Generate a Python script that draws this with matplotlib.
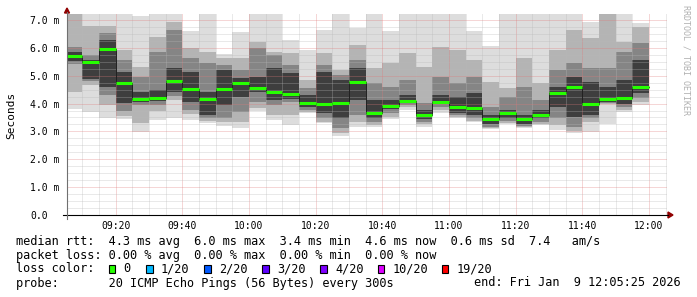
import numpy as np
import matplotlib
matplotlib.use("Agg")
import matplotlib.pyplot as plt
from matplotlib.patches import Rectangle, Polygon

W, H = 697, 297

# 5-minute steps, minutes after 09:00 (first step starts 09:05)
bar_start = list(range(5, 180, 5))

# median rtt per step (ms)
median = [5.71, 5.48, 5.96, 4.75, 4.17, 4.20, 4.82, 4.52, 4.16, 4.52,
          4.75, 4.55, 4.42, 4.34, 4.01, 3.98, 4.01, 4.76, 3.67, 3.91,
          4.10, 3.58, 4.07, 3.89, 3.83, 3.43, 3.67, 3.46, 3.58, 4.37,
          4.61, 3.97, 4.16, 4.20, 4.59]

# smoke bands (sorted pings, outer -> inner), ms
smoke_min = [3.80, 3.71, 3.47, 3.45, 2.99, 3.41, 3.47, 3.41, 3.29, 3.19,
             3.13, 3.74, 3.41, 3.23, 3.65, 3.29, 2.83, 3.17, 3.17, 3.43,
             3.77, 3.17, 3.65, 3.47, 3.35, 3.07, 3.27, 3.11, 3.23, 3.05,
             2.95, 2.99, 3.27, 3.68, 3.95]
smoke_lo2 = [4.43, 4.67, 3.95, 3.57, 3.29, 3.73, 4.13, 3.61, 3.37, 3.33,
             3.33, 3.83, 3.59, 3.59, 3.69, 3.35, 2.93, 3.35, 3.23, 3.51,
             3.86, 3.27, 3.77, 3.51, 3.39, 3.11, 3.31, 3.15, 3.27, 3.23,
             3.02, 3.35, 3.97, 3.77, 4.04]
smoke_lo3 = [5.41, 4.81, 4.31, 3.73, 3.95, 3.95, 4.28, 3.77, 3.47, 3.47,
             3.71, 4.07, 3.95, 4.07, 3.77, 3.47, 3.11, 3.59, 3.35, 3.65,
             3.95, 3.35, 3.89, 3.58, 3.47, 3.17, 3.39, 3.19, 3.35, 3.47,
             3.17, 3.47, 4.03, 3.89, 4.19]
smoke_lo4 = [5.53, 4.88, 4.61, 4.01, 4.07, 4.09, 4.40, 4.07, 3.59, 3.95,
             4.25, 4.40, 4.13, 4.16, 3.89, 3.65, 3.47, 4.13, 3.47, 3.79,
             4.01, 3.43, 3.98, 3.67, 3.59, 3.27, 3.47, 3.27, 3.47, 3.89,
             3.53, 3.59, 4.07, 3.97, 4.37]
smoke_hi4 = [5.86, 5.56, 6.28, 5.14, 4.40, 4.49, 5.26, 5.14, 4.43, 5.20,
             4.91, 4.97, 5.26, 5.08, 4.31, 5.14, 4.85, 5.26, 4.13, 4.13,
             4.31, 3.77, 4.31, 4.25, 4.37, 3.59, 3.77, 3.59, 3.77, 4.61,
             4.97, 4.79, 4.61, 4.85, 5.56]
smoke_hi3 = [6.04, 5.74, 6.52, 5.56, 4.97, 5.86, 6.64, 5.62, 5.44, 5.38,
             5.20, 5.98, 5.74, 5.38, 4.55, 5.38, 5.03, 5.56, 4.73, 4.61,
             4.85, 4.01, 4.97, 4.73, 4.97, 3.89, 4.25, 4.61, 4.13, 5.20,
             5.44, 5.26, 5.26, 5.86, 6.16]
smoke_hi2 = [7.50, 6.80, 6.80, 5.92, 5.32, 6.40, 6.94, 5.98, 5.86, 5.62,
             5.62, 6.22, 5.86, 5.80, 4.85, 5.80, 5.20, 6.10, 5.26, 5.44,
             5.80, 5.32, 6.04, 5.92, 5.56, 4.79, 4.55, 5.62, 4.73, 5.92,
             6.64, 6.34, 7.50, 6.22, 6.76]
smoke_max = [7.50, 7.50, 7.50, 7.50, 7.14, 7.50, 7.50, 6.60, 7.50, 5.77,
             6.58, 7.50, 7.50, 6.28, 5.92, 6.64, 7.50, 6.72, 7.50, 6.60,
             7.50, 7.50, 7.50, 7.50, 6.60, 6.07, 7.50, 7.50, 7.50, 7.50,
             7.50, 6.94, 7.50, 7.50, 6.88]

tick_minutes = [20, 40, 60, 80, 100, 120, 140, 160, 180]
tick_labels = ["09:20", "09:40", "10:00", "10:20", "10:40",
               "11:00", "11:20", "11:40", "12:00"]
y_ticks = [0, 1, 2, 3, 4, 5, 6, 7]
y_labels = ["0.0", "1.0 m", "2.0 m", "3.0 m", "4.0 m", "5.0 m", "6.0 m", "7.0 m"]

loss_labels = ["0", "1/20", "2/20", "3/20", "4/20", "10/20", "19/20"]
loss_colors = ["#26ff00", "#00b8ff", "#0059ff", "#5e00ff", "#7e00ff", "#dd00ff", "#ff0000"]

MONO = "DejaVu Sans Mono"


def fx(px):
    return px / W


def fy(py):
    return 1 - py / H


fig = plt.figure(figsize=(W / 100, H / 100), dpi=100)
fig.patch.set_facecolor("white")

ax = fig.add_axes([fx(67), fy(215), 600 / W, 200.6 / H])
ax.set_xlim(5 + 25 / 60, 185 + 25 / 60)
ax.set_ylim(0, 7.2)
for s in ax.spines.values():
    s.set_visible(False)

# smoke layers
layers = [(smoke_min, smoke_max, "#dddddd"),
          (smoke_lo2, smoke_hi2, "#b4b4b4"),
          (smoke_lo3, smoke_hi3, "#858585"),
          (smoke_lo4, smoke_hi4, "#3e3e3e")]
for lo, hi, col in layers:
    lo = np.array(lo)
    hi = np.array(hi)
    ax.bar(bar_start, hi - lo, bottom=lo, width=5, align="edge",
           color=col, linewidth=0, zorder=1)

# median line
edges = bar_start + [bar_start[-1] + 5]
ax.step(edges, median + [median[-1]], where="post", color="#202020",
        lw=0.7, zorder=3)
ax.hlines(median, bar_start, np.array(bar_start) + 5, color=loss_colors[0],
          lw=2.2, zorder=4)

# grid
ax.set_xticks(tick_minutes)
ax.set_xticklabels(tick_labels, family=MONO, fontsize=7)
ax.set_xticks(list(range(10, 186, 5)), minor=True)
ax.set_yticks(y_ticks)
ax.set_yticklabels(y_labels, family=MONO, fontsize=7)
ax.set_yticks(list(np.arange(0, 7.2, 0.25)), minor=True)
ax.tick_params(which="both", length=0)
ax.tick_params(axis="x", pad=4)
ax.tick_params(axis="y", pad=26.6)
for lbl in ax.get_yticklabels():
    lbl.set_horizontalalignment("left")
ax.set_axisbelow(False)
ax.grid(which="minor", color="#b8b8b8", alpha=0.6, lw=0.72, ls=(0, (1, 1)))
ax.grid(which="major", color="#e07878", alpha=0.6, lw=0.72, ls=(0, (1, 1)))

# axes lines and arrows
fig.add_artist(plt.Line2D([fx(63), fx(668)], [fy(215), fy(215)], color="black", lw=0.8))
fig.add_artist(plt.Line2D([fx(67), fx(67)], [fy(219), fy(12)], color="#707070", lw=0.8))
fig.add_artist(Polygon([[fx(668), fy(212)], [fx(673), fy(215)], [fx(668), fy(218)]],
                       closed=True, color="#900000", transform=fig.transFigure))
fig.add_artist(Polygon([[fx(64.5), fy(13)], [fx(67), fy(8)], [fx(69.5), fy(13)]],
                       closed=True, color="#900000", transform=fig.transFigure))

fig.text(fx(11), fy(115), "Seconds", rotation=90, family=MONO, fontsize=8,
         ha="center", va="center")
fig.text(fx(686), fy(5), "RRDTOOL / TOBI OETIKER", rotation=270, family=MONO,
         fontsize=6, color="#b0b0b0", ha="center", va="top")

# legend
LS = 8.55
fig.text(fx(16), fy(241), "median rtt:  4.3 ms avg  6.0 ms max  3.4 ms min  4.6 ms now  0.6 ms sd  7.4   am/s",
         family=MONO, fontsize=LS, va="center")
fig.text(fx(16), fy(255), "packet loss: 0.00 % avg  0.00 % max  0.00 % min  0.00 % now",
         family=MONO, fontsize=LS, va="center")
fig.text(fx(16), fy(269), "loss color:", family=MONO, fontsize=LS, va="center")
sq_x = [108.5, 146, 204, 262, 320, 378, 442]
for x0, lab, col in zip(sq_x, loss_labels, loss_colors):
    fig.add_artist(Rectangle((fx(x0), fy(272.7)), 6.5 / W, 7.3 / H, facecolor=col,
                             edgecolor="black", lw=0.8, transform=fig.transFigure))
    fig.text(fx(x0 + 15), fy(269), lab, family=MONO, fontsize=LS, va="center")
fig.text(fx(16), fy(283), "probe:       20 ICMP Echo Pings (56 Bytes) every 300s",
         family=MONO, fontsize=LS, va="center")
fig.text(fx(681), fy(283), "end: Fri Jan  9 12:05:25 2026", family=MONO,
         fontsize=LS, va="center", ha="right")

fig.savefig("out.png", dpi=100)
